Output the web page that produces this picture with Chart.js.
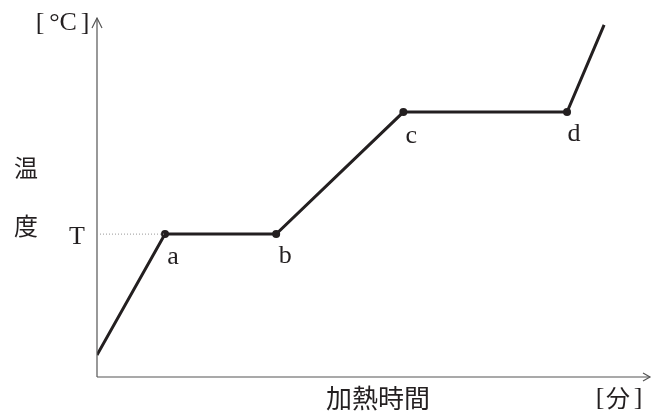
<!DOCTYPE html>
<html>
<head>
<meta charset="utf-8">
<script src="https://cdn.jsdelivr.net/npm/chart.js@4"></script>
<style>
  html, body { margin: 0; padding: 0; background: #fff; }
  #wrap { width: 652px; height: 414px; position: relative; }
</style>
</head>
<body>
<div id="wrap"><canvas id="heatChart" width="652" height="414"></canvas></div>
<script>
// heating curve (arbitrary units 0..100)
const timeVals = [0, 12.3, 32.4, 55.4, 85.0, 91.7];
const tempVals = [6.1, 39.8, 39.8, 73.8, 73.8, 98.1];
const pointNames = ['', 'a', 'b', 'c', 'd', ''];
const tempT = 39.8;

const ink = '#231f20';
const serif = '"Liberation Serif", "DejaVu Serif", serif';
const cjk = '"Noto Sans CJK JP", sans-serif';

const decor = {
  id: 'decor',
  afterDraw(chart) {
    const ctx = chart.ctx;
    const xs = chart.scales.x, ys = chart.scales.y;
    const x0 = xs.getPixelForValue(0), y0 = ys.getPixelForValue(0);
    const right = chart.chartArea.right, top = chart.chartArea.top;
    ctx.save();
    // axes
    ctx.strokeStyle = '#555';
    ctx.lineWidth = 1.2;
    ctx.beginPath();
    ctx.moveTo(x0, y0); ctx.lineTo(x0, top);
    ctx.moveTo(x0, y0); ctx.lineTo(right, y0);
    ctx.stroke();
    // arrow heads
    ctx.beginPath();
    ctx.moveTo(x0 - 5, top + 10); ctx.lineTo(x0, top); ctx.lineTo(x0 + 5, top + 10);
    ctx.moveTo(right - 7, y0 - 4); ctx.lineTo(right, y0); ctx.lineTo(right - 7, y0 + 4);
    ctx.stroke();
    // dotted T line
    const yT = ys.getPixelForValue(tempT);
    ctx.strokeStyle = '#999';
    ctx.lineWidth = 1;
    ctx.setLineDash([1, 2]);
    ctx.beginPath();
    ctx.moveTo(x0, yT); ctx.lineTo(xs.getPixelForValue(timeVals[1]), yT);
    ctx.stroke();
    ctx.setLineDash([]);
    // texts
    ctx.fillStyle = ink;
    ctx.textAlign = 'center';
    ctx.textBaseline = 'middle';
    ctx.font = '26px ' + serif;
    ctx.fillText('T', 77, yT + 3);
    const offs = [null, [8, 23], [9, 22], [8, 24], [7, 22], null];
    timeVals.forEach((t, i) => {
      if (!pointNames[i]) return;
      ctx.fillText(pointNames[i], xs.getPixelForValue(t) + offs[i][0], ys.getPixelForValue(tempVals[i]) + offs[i][1]);
    });
    ctx.fillText('[', 40, 23);
    ctx.fillText('°C', 63, 23);
    ctx.fillText(']', 85, 23);
    ctx.font = '24px ' + cjk;
    ctx.fillText('温', 26, 168);
    ctx.fillText('度', 26, 226);
    ctx.font = '26px ' + cjk;
    ctx.fillText('加熱時間', 378, 398);
    ctx.font = '26px ' + serif;
    ctx.fillText('[', 600, 398);
    ctx.fillText(']', 638, 398);
    ctx.font = '24px ' + cjk;
    ctx.fillText('分', 618, 398);
    ctx.restore();
  }
};

new Chart(document.getElementById('heatChart'), {
  type: 'line',
  data: {
    datasets: [{
      data: timeVals.map((t, i) => ({ x: t, y: tempVals[i] })),
      borderColor: ink,
      backgroundColor: ink,
      borderWidth: 3,
      tension: 0,
      pointRadius: pointNames.map(n => n ? 4 : 0),
      pointBorderWidth: 0
    }]
  },
  options: {
    responsive: false,
    animation: false,
    layout: { padding: { left: 97, right: 2, top: 18, bottom: 37 } },
    plugins: { legend: { display: false }, tooltip: { enabled: false } },
    scales: {
      x: { type: 'linear', min: 0, max: 100, display: false },
      y: { type: 'linear', min: 0, max: 100, display: false }
    }
  },
  plugins: [decor]
});
</script>
</body>
</html>
